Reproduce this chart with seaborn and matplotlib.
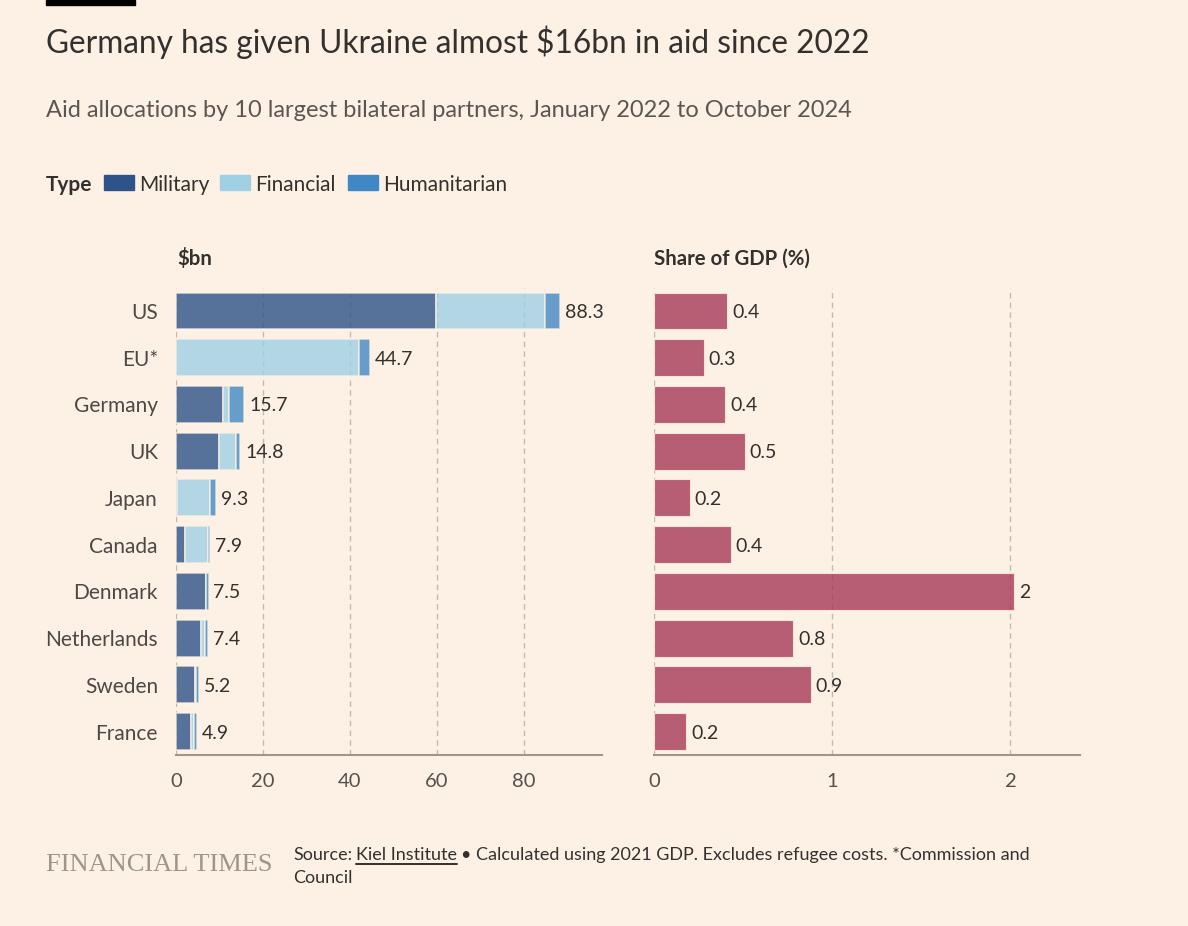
import matplotlib.pyplot as plt
import numpy as np
import pandas as pd
import seaborn as sns
from matplotlib.lines import Line2D
from matplotlib.patches import Rectangle

# values ($bn, Jan 2022 - Oct 2024)
countries = ['US', 'EU*', 'Germany', 'UK', 'Japan', 'Canada', 'Denmark', 'Netherlands', 'Sweden', 'France']
military = [59.9, 0.0, 10.9, 9.9, 0.3, 2.0, 6.8, 5.7, 4.4, 3.4]
financial = [25.0, 42.2, 1.3, 3.9, 7.5, 5.3, 0.2, 1.0, 0.3, 0.7]
humanitarian = [3.4, 2.5, 3.5, 1.0, 1.5, 0.6, 0.5, 0.7, 0.5, 0.8]
gdp_share = [0.41, 0.28, 0.40, 0.51, 0.20, 0.43, 2.02, 0.78, 0.88, 0.18]

aid_types = ['Military', 'Financial', 'Humanitarian']
left_ticks = [0, 20, 40, 60, 80]
right_ticks = [0, 1, 2]

BG = '#fdf1e5'
TXT = '#33302e'
GREY = '#9e958c'
type_colors = {'Military': '#2e5388', 'Financial': '#9fd0e3', 'Humanitarian': '#4088c5'}
gdp_color = '#a73958'

W, H = 1188, 926

sns.set_theme(style='white')
plt.rcParams['font.family'] = ['Lato', 'DejaVu Sans']
plt.rcParams['axes.facecolor'] = BG
plt.rcParams['figure.facecolor'] = BG

df = pd.DataFrame({'country': countries, 'Military': military,
                   'Financial': financial, 'Humanitarian': humanitarian})
df['total'] = df[aid_types].sum(axis=1)
gdp = pd.DataFrame({'country': countries, 'share': gdp_share})

fig = plt.figure(figsize=(W / 100, H / 100), dpi=100)
ax1 = fig.add_axes([176 / W, 1 - 755 / H, 426 / W, 467.4 / H])
ax2 = fig.add_axes([654 / W, 1 - 755 / H, 426 / W, 467.4 / H])

# stacked bars, one seaborn call per aid type
left = np.zeros(len(countries))
for t in aid_types:
    sns.barplot(data=df, y='country', x=t, order=countries, orient='h',
                color=type_colors[t], saturation=1, alpha=0.8, width=0.79, left=left,
                edgecolor=BG, linewidth=1.1, ax=ax1)
    left = left + df[t].values

sns.barplot(data=gdp, y='country', x='share', order=countries, orient='h',
            color=gdp_color, saturation=1, alpha=0.8, width=0.79,
            edgecolor=BG, linewidth=0.8, ax=ax2)

for i, v in enumerate(df['total']):
    ax1.annotate(f'{round(v, 1):g}', (v, i), xytext=(3.5, 0), textcoords='offset points',
                 va='center_baseline', ha='left', fontsize=14, color=TXT)
for i, v in enumerate(gdp['share']):
    ax2.annotate(f'{round(v, 1):g}', (v, i), xytext=(3.5, 0), textcoords='offset points',
                 va='center_baseline', ha='left', fontsize=14, color=TXT)

for ax, ticks, xmax in [(ax1, left_ticks, 98), (ax2, right_ticks, 2.39)]:
    ax.set_xlim(0, xmax)
    ax.set_xticks(ticks)
    ax.set_xlabel('')
    ax.set_ylabel('')
    ax.set_axisbelow(True)
    ax.grid(axis='x', color='#c4bab0', linestyle=(0, (4, 3)), linewidth=1)
    ax.grid(axis='y', visible=False)
    for s in ['top', 'right', 'left']:
        ax.spines[s].set_visible(False)
    ax.spines['bottom'].set_color(GREY)
    ax.spines['bottom'].set_linewidth(1.5)
    ax.tick_params(axis='x', length=7, width=1.3, color=GREY, pad=6,
                   labelsize=14.5, labelcolor='#55504c')
    ax.tick_params(axis='y', length=0, pad=13, labelsize=15, labelcolor='#4d4845')

ax2.tick_params(axis='y', labelleft=False)

# headings
fig.add_artist(Rectangle((46 / W, 1 - 5 / H), 89 / W, 5 / H, color='black', transform=fig.transFigure))
fig.text(46 / W, 1 - 53 / H, 'Germany has given Ukraine almost $16bn in aid since 2022',
         fontsize=22.75, color=TXT, va='baseline')
fig.text(46 / W, 1 - 117 / H, 'Aid allocations by 10 largest bilateral partners, January 2022 to October 2024',
         fontsize=17.05, color='#5c5652', va='baseline')

# legend
fig.text(46 / W, 1 - 191 / H, 'Type', fontsize=15, fontweight='bold', color=TXT, va='baseline')
sw_x = [104, 220, 348]
for t, x in zip(aid_types, sw_x):
    fig.add_artist(Rectangle((x / W, 1 - 190 / H), 30 / W, 15 / H, color=type_colors[t],
                             transform=fig.transFigure))
    fig.text((x + 35) / W, 1 - 191 / H, t, fontsize=15, color=TXT, va='baseline')

fig.text(177 / W, 1 - 265 / H, '$bn', fontsize=14.7, fontweight='bold', color=TXT, va='baseline')
fig.text(654 / W, 1 - 265 / H, 'Share of GDP (%)', fontsize=14.7, fontweight='bold', color=TXT,
         va='baseline')

# footer
fig.text(46 / W, 1 - 871 / H, 'FINANCIAL TIMES', family='Liberation Serif', fontsize=19,
         color=GREY, va='baseline')

fig.canvas.draw()
r = fig.canvas.get_renderer()
fs = 13
y1 = 1 - 860 / H
t1 = fig.text(293 / W, y1, 'Source:', fontsize=fs, color=TXT, va='baseline')
bb1 = t1.get_window_extent(r)
t2 = fig.text((bb1.x1 + 4) / W, y1, 'Kiel Institute', fontsize=fs, color=TXT, va='baseline')
bb2 = t2.get_window_extent(r)
fig.add_artist(Line2D([bb2.x0 / W, bb2.x1 / W], [y1 - 4 / H, y1 - 4 / H], color=TXT, lw=1.4,
                      transform=fig.transFigure))
fig.text((bb2.x1 + 4) / W, y1, '• Calculated using 2021 GDP. Excludes refugee costs. *Commission and',
         fontsize=fs, color=TXT, va='baseline')
fig.text(293 / W, 1 - 883 / H, 'Council', fontsize=fs, color=TXT, va='baseline')

fig.savefig('out.png', dpi=100, facecolor=BG)
